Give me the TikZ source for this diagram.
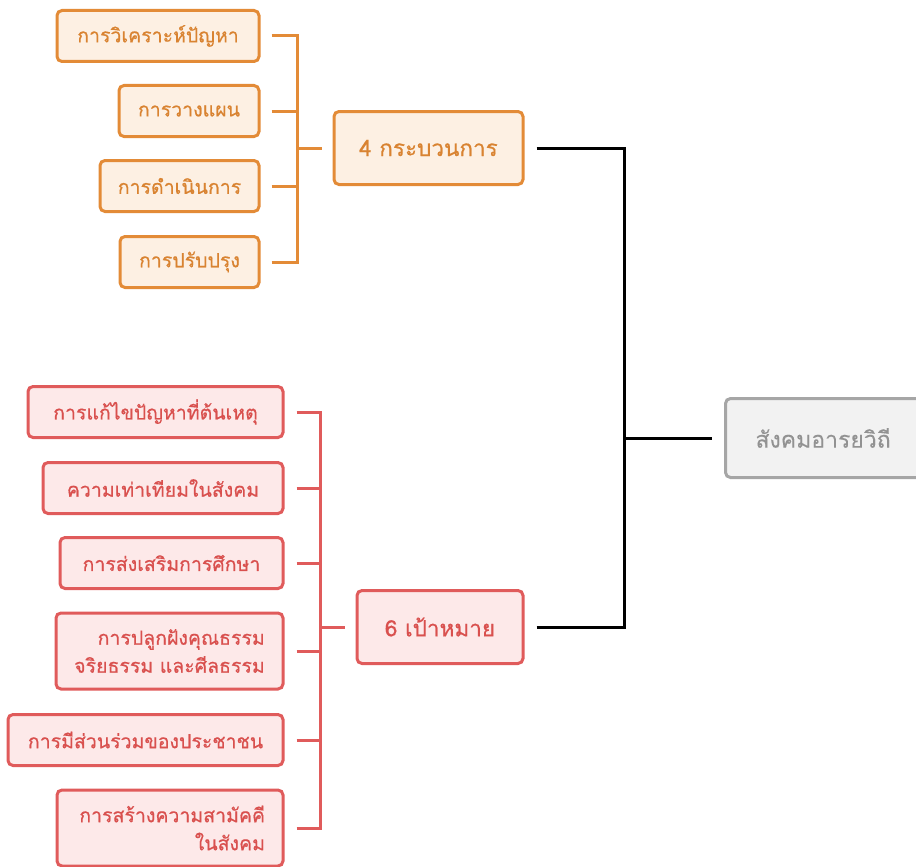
\documentclass[tikz,border=0pt]{standalone}
\usepackage{fontspec}
\newfontfamily\thaifont[Script=Thai,FakeBold=0.6]{Loma}
\newfontfamily\thaifontreg[Script=Thai,FakeBold=0.2]{Loma}
\definecolor{ostroke}{HTML}{E38B37}
\definecolor{ofill}{HTML}{FDF0E3}
\definecolor{otext}{HTML}{D98331}
\definecolor{rstroke}{HTML}{E05B5B}
\definecolor{rfill}{HTML}{FDE9E9}
\definecolor{rtext}{HTML}{D9504E}
\definecolor{gstroke}{HTML}{A6A6A6}
\definecolor{gfill}{HTML}{F2F2F2}
\definecolor{gtext}{HTML}{929292}
\tikzset{
  base/.style={rounded corners=5pt, line width=3pt, inner sep=0pt, align=right, font=\thaifont\fontsize{19.5}{28}\selectfont},
  obox/.style={base, draw=ostroke, fill=ofill, text=otext, minimum height=51pt},
  rbox/.style={base, draw=rstroke, fill=rfill, text=rtext, minimum height=51pt},
  obig/.style={obox, minimum height=73pt, font=\thaifont\fontsize{22.5}{28}\selectfont},
  rbig/.style={rbox, minimum height=73pt, font=\thaifont\fontsize{22.5}{28}\selectfont},
  gbox/.style={base, draw=gstroke, fill=gfill, text=gtext, minimum height=79pt, align=left, font=\thaifontreg\fontsize{23}{28}\selectfont},
  oline/.style={draw=ostroke, line width=3pt},
  rline/.style={draw=rstroke, line width=3pt},
  kline/.style={draw=black, line width=3pt},
}
\begin{document}
\begin{tikzpicture}[x=1pt,y=-1pt]
\useasboundingbox (0,0) rectangle (916,867);
% orange group
\node[obox, minimum width=202pt] (o1) at (158,36) {การวิเคราะห์ปัญหา};
\node[obox, minimum width=140pt] (o2) at (189,111) {การวางแผน};
\node[obox, minimum width=159pt] (o3) at (179.5,186) {การดำเนินการ};
\node[obox, minimum width=139pt] (o4) at (189.5,262) {การปรับปรุง};
\node[obig, minimum width=189pt] (g4) at (428.5,148) {4 กระบวนการ};
\coordinate (ob) at (297,148);
\draw[oline] ([xshift=11pt]o1.east) -| (ob);
\draw[oline] ([xshift=11pt]o2.east) -| (ob);
\draw[oline] ([xshift=11pt]o3.east) -| (ob);
\draw[oline] ([xshift=11pt]o4.east) -| (ob);
\draw[oline] (ob) -- ([xshift=-11pt]g4.west);
% red group
\node[rbox, minimum width=255pt] (r1) at (155.5,412) {การแก้ไขปัญหาที่ต้นเหตุ};
\node[rbox, minimum width=240pt] (r2) at (163,488) {ความเท่าเทียมในสังคม};
\node[rbox, minimum width=223pt] (r3) at (171.5,563) {การส่งเสริมการศึกษา};
\node[rbox, minimum width=227pt, minimum height=76pt] (r4) at (169.5,651) {การปลูกฝังคุณธรรม\\จริยธรรม และศีลธรรม};
\node[rbox, minimum width=275pt] (r5) at (145.5,740) {การมีส่วนร่วมของประชาชน};
\node[rbox, minimum width=226pt, minimum height=76pt] (r6) at (170,828) {\makebox[190pt][r]{การสร้างความสามัคคี}\\ในสังคม};
\node[rbig, minimum width=166pt] (g6) at (440,627) {6 เป้าหมาย};
\coordinate (rb) at (320,627);
\draw[rline] ([xshift=12pt]r1.east) -| (rb);
\draw[rline] ([xshift=12pt]r2.east) -| (rb);
\draw[rline] ([xshift=12pt]r3.east) -| (rb);
\draw[rline] ([xshift=12pt]r4.east) -| (rb);
\draw[rline] ([xshift=12pt]r5.east) -| (rb);
\draw[rline] ([xshift=12pt]r6.east) -| (rb);
\draw[rline] (rb) -- ([xshift=-11pt]g6.west);
% root
\node[gbox, text width=151pt, inner xsep=30pt, anchor=west] (root) at (724,438) {สังคมอารยวิถี};
\coordinate (kb) at (624,438);
\draw[kline] ([xshift=12pt]g4.east) -| (kb);
\draw[kline] ([xshift=12pt]g6.east) -| (kb);
\draw[kline] (kb) -- ([xshift=-12pt]root.west);
\end{tikzpicture}
\end{document}
